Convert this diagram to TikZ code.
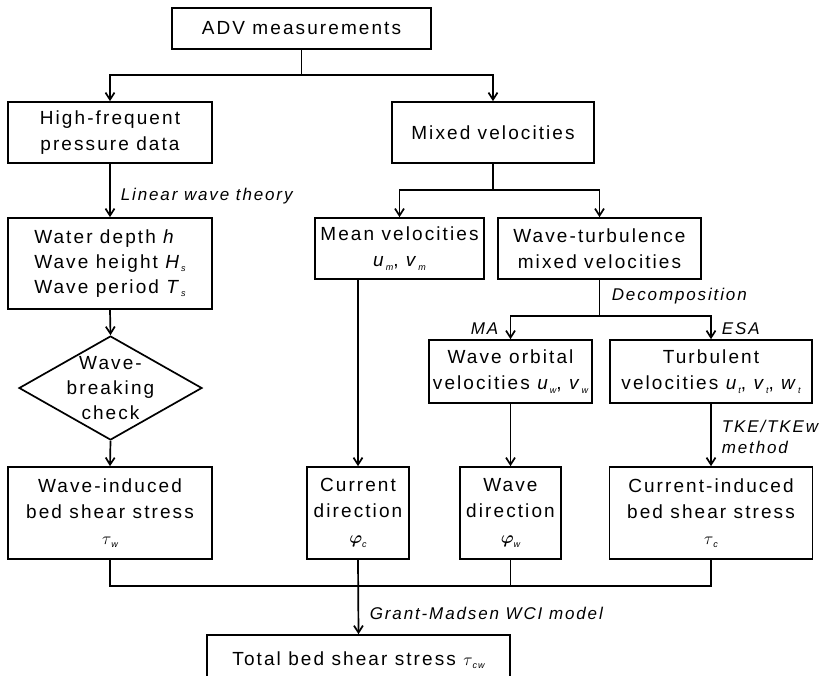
\documentclass[tikz,border=0pt]{standalone}
\usepackage{fontspec}
\setmainfont{Liberation Sans}[LetterSpace=11]
\usepackage{bm}
\usetikzlibrary{shapes.geometric,arrows.meta}
\newcommand{\lowsub}[1]{\raisebox{-0.35ex}{\fontsize{9pt}{9pt}\selectfont\itshape #1}}
\begin{document}
\begin{tikzpicture}[
		x=1pt,y=-1pt,
		line width=1.7pt,
		box/.style={draw,align=center,inner sep=2pt,font=\fontsize{19pt}{26pt}\selectfont},
		diam/.style={draw,diamond,inner sep=0pt,minimum width=183pt,minimum height=104pt},
		lbl/.style={font=\fontsize{17pt}{21pt}\selectfont\itshape,inner sep=0pt},
		arr/.style={-{Straight Barb[length=7pt,width=9pt]}},
	]
		\path[use as bounding box,clip] (0,0) rectangle (829,675);
		
		\node[box,minimum width=259pt,minimum height=41pt] (adv) at (301.5,28.5) {ADV measurements};
		\node[box,minimum width=204pt,minimum height=61pt] (hfp) at (110,132.5) {High-frequent\\pressure data};
		\node[box,minimum width=202pt,minimum height=61pt] (mix) at (493,132.5) {Mixed velocities};
		\node[box,minimum width=204pt,minimum height=91pt,align=left,font=\fontsize{19pt}{25pt}\selectfont] (wdh) at (110,263.5) {Water depth \textit{h}\\Wave height \textit{H}\lowsub{s}\\Wave period \textit{T}\lowsub{s}};
		\node[diam] (brk) at (110.5,388) {};
		\node[box,draw=none,font=\fontsize{19pt}{25pt}\selectfont] (brktxt) at (brk) {Wave-\\breaking\\check};
		\node[box,minimum width=169pt,minimum height=61pt] (mean) at (399.5,248.5) {Mean velocities\\\textit{u}\lowsub{m}, \textit{v}\lowsub{m}};
		\node[box,minimum width=203pt,minimum height=61pt] (wtm) at (599.5,248.5) {Wave-turbulence\\mixed velocities};
		\node[box,minimum width=163pt,minimum height=63pt] (wob) at (510.5,371.5) {Wave orbital\\velocities \textit{u}\lowsub{w}, \textit{v}\lowsub{w}};
		\node[box,minimum width=202pt,minimum height=63pt] (tur) at (711,371.5) {Turbulent\\velocities \textit{u}\lowsub{t}, \textit{v}\lowsub{t}, \textit{w}\lowsub{t}};
		\node[box,minimum width=204pt,minimum height=92pt] (wib) at (110,513) {Wave-induced\\bed shear stress\\$\tau$\lowsub{w}};
		\node[box,minimum width=102pt,minimum height=92pt] (cdir) at (358,513) {Current\\direction\\$\bm{\varphi}$\lowsub{c}};
		\node[box,minimum width=101pt,minimum height=92pt] (wdir) at (510.5,513) {Wave\\direction\\$\bm{\varphi}$\lowsub{w}};
		\node[box,minimum width=203pt,minimum height=92pt] (cib) at (711,513) {Current-induced\\bed shear stress\\$\tau$\lowsub{c}};
		\node[box,minimum width=303pt,minimum height=50pt] (tot) at (358.5,660) {Total bed shear stress $\tau$\lowsub{cw}};
		
		\node[lbl,anchor=west] (lwt) at (120,196) {Linear wave theory};
		\node[lbl,anchor=west] (dec) at (611,296) {Decomposition};
		\node[lbl,anchor=east] (ma) at (499,329) {MA};
		\node[lbl,anchor=west] (esa) at (721,329) {ESA};
		\node[lbl,anchor=west,align=left] (tke) at (721,437) {TKE/TKEw\\method};
		\node[lbl,anchor=west] (gm) at (369,613) {Grant-Madsen WCI model};
		
		\coordinate (r1) at (0,75);
		\coordinate (r2) at (0,190);
		\coordinate (r3) at (0,316);
		\coordinate (r4) at (0,586);
		
		\draw (adv.south) -- (adv.south |- r1);
		\draw[arr] (adv.south |- r1) -| (hfp.north);
		\draw[arr] (adv.south |- r1) -| (mix.north);
		\draw[arr] (hfp.south) -- (wdh.north);
		\draw[arr] (wdh.south) -- (brk.north);
		\draw[arr] (brk.south) -- (wib.north);
		\draw (mix.south) -- (mix.south |- r2);
		\draw[arr] (mix.south |- r2) -| (mean.north);
		\draw[arr] (mix.south |- r2) -| (wtm.north);
		\draw[arr] (cdir.north |- mean.south) -- (cdir.north);
		\draw (wtm.south) -- (wtm.south |- r3);
		\draw[arr] (wtm.south |- r3) -| (wob.north);
		\draw[arr] (wtm.south |- r3) -| (tur.north);
		\draw[arr] (wob.south) -- (wdir.north);
		\draw[arr] (tur.south) -- (cib.north);
		\draw (wib.south) |- (cib.south |- r4) -- (cib.south);
		\draw (wdir.south) -- (wdir.south |- r4);
		\draw[arr] (cdir.south) -- (tot.north);
	\end{tikzpicture}
\end{document}
